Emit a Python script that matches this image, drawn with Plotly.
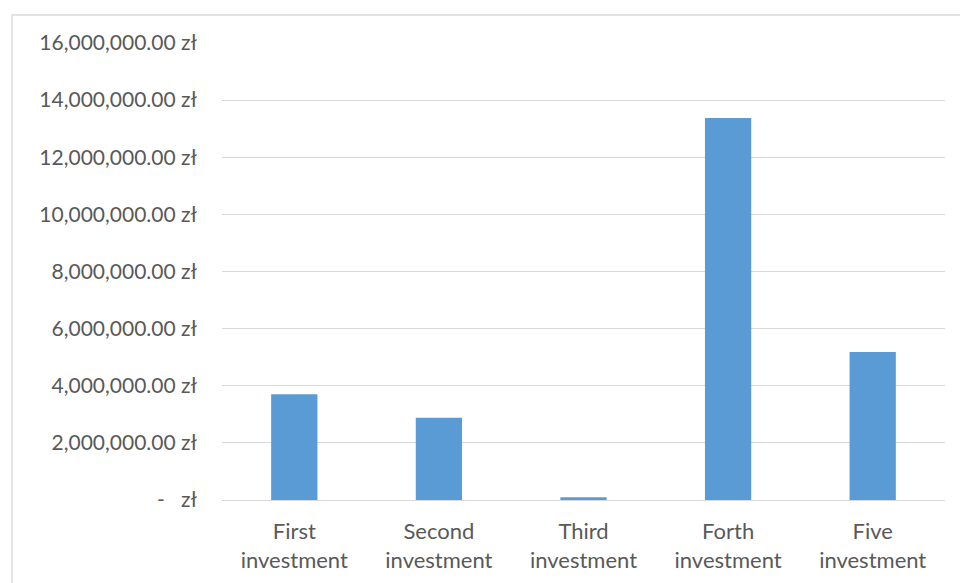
import plotly.graph_objects as go

# Investment amounts in PLN
categories = ["First<br>investment", "Second<br>investment", "Third<br>investment",
              "Forth<br>investment", "Five<br>investment"]
values = [3700000, 2880000, 95000, 13370000, 5180000]

tick_vals = [0, 2000000, 4000000, 6000000, 8000000, 10000000, 12000000, 14000000, 16000000]
tick_text = ["-\u00a0\u00a0\u00a0zł", "2,000,000.00 zł", "4,000,000.00 zł", "6,000,000.00 zł",
             "8,000,000.00 zł", "10,000,000.00 zł", "12,000,000.00 zł", "14,000,000.00 zł",
             "16,000,000.00 zł"]

fig = go.Figure(go.Bar(
    x=categories, y=values,
    marker=dict(color="#5B9BD5", line=dict(width=0)),
))

fig.update_layout(
    width=960, height=583,
    margin=dict(l=222, r=15, t=43, b=83),
    paper_bgcolor="white", plot_bgcolor="white",
    bargap=0.68,
    showlegend=False,
    font=dict(family="Lato", size=21, color="#595959"),
    xaxis=dict(showgrid=False, showline=False, ticks="", tickfont=dict(size=22),
               ticklabelstandoff=16, automargin=False),
    yaxis=dict(range=[0, 16000000], tickvals=tick_vals, ticktext=tick_text,
               showgrid=True, gridcolor="#D9D9D9", gridwidth=1.3,
               zeroline=True, zerolinecolor="#D9D9D9", zerolinewidth=1.3,
               showline=False, ticks="", ticklabelstandoff=24, automargin=False),
    shapes=[dict(type="rect", xref="paper", yref="paper",
                 x0=-0.2905, x1=1.2, y0=-0.3, y1=1.0613,
                 line=dict(color="#D9D9D9", width=1.3), layer="below")],
)

fig.write_html("out.html")
